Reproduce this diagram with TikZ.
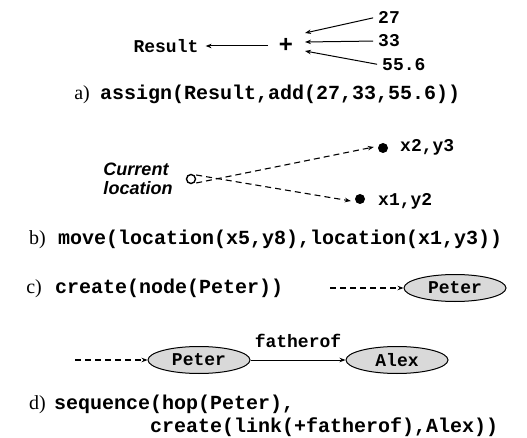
\documentclass[tikz,border=0pt]{standalone}
\usepackage{fontspec}
\setmainfont{Liberation Serif}
\setmonofont{Liberation Mono}
\newfontfamily\labelsans{Liberation Sans}
\usetikzlibrary{shapes.geometric,arrows.meta}

\tikzset{
  lbl/.style={font=\ttfamily\bfseries\fontsize{18}{20}\selectfont, inner sep=1pt},
  code/.style={font=\ttfamily\bfseries\fontsize{20}{24}\selectfont, inner sep=0pt, anchor=base west},
  tag/.style={font=\rmfamily\fontsize{20}{24}\selectfont, inner sep=0pt, anchor=base east},
  ent/.style={ellipse, draw, line width=1pt, fill=black!15, minimum width=102pt,
    minimum height=27pt, inner sep=0pt, font=\ttfamily\bfseries\fontsize{18}{20}\selectfont},
  tip/.style={-{Stealth[length=6pt,width=4.5pt]}},
  arr/.style={tip, line width=1pt},
  dasharr/.style={tip, line width=1.1pt, dash pattern=on 6pt off 4pt},
  dot/.style={circle, fill=black, minimum size=10pt, inner sep=0pt},
  hollow/.style={circle, draw, line width=1.4pt, minimum size=9pt, inner sep=0pt}
}

\begin{document}
\begin{tikzpicture}[x=1pt,y=-1pt]
\useasboundingbox (0,0) rectangle (527,438);

% a) assignment of a sum
\node[lbl] (res) at (166,46) {Result};
\node[font=\labelsans\bfseries\fontsize{24}{26}\selectfont, inner sep=0pt] (plus) at (286,45) {+};
\node[lbl,anchor=west] (n27) at (377,17) {27};
\node[lbl,anchor=west] (n33) at (377,41) {33};
\node[lbl,anchor=west] (n556) at (381,65) {55.6};
\coordinate (pa) at (305,33);
\coordinate (pb) at (305,42);
\coordinate (pc) at (305,51);
\coordinate (pr) at (268,46);
\draw[arr, shorten <=4pt] (n27.west) -- (pa);
\draw[arr, shorten <=4pt] (n33.west) -- (pb);
\draw[arr, shorten <=4pt] (n556.west) -- (pc);
\draw[arr] (pr) -- ([xshift=6pt]res.east);
\node[tag] (ta) at (90,100) {a)};
\node[code] (ca) at (100,100) {assign(Result,add(27,33,55.6))};

% b) moving between locations
\node[font=\labelsans\bfseries\itshape\fontsize{18}{19}\selectfont, align=left, inner sep=0pt]
  (cur) at (138,179) {Current\\location};
\node[hollow] (here) at (191,179) {};
\node[dot] (d23) at (383,148) {};
\node[dot] (d12) at (360,199) {};
\node[lbl,anchor=west] (l23) at (399,147) {x2,y3};
\node[lbl,anchor=west] (l12) at (377,201) {x1,y2};
\draw[dasharr] ([yshift=-4pt]here.east) -- ([xshift=-4pt,yshift=1pt]d23.west);
\draw[dasharr] ([yshift=4pt]here.east) -- ([xshift=-4pt,yshift=-2pt]d12.west);
\node[tag] (tb) at (46,244) {b)};
\node[code] (cb) at (58,244) {move(location(x5,y8),location(x1,y3))};

% c) creating a node
\node[tag] (tc) at (42,293) {c)};
\node[code] (cc) at (55,293) {create(node(Peter))};
\node[ent] (peter1) at (455,288) {Peter};
\coordinate (sc) at (330,288);
\draw[dasharr] (sc) -- (peter1.west);

% d) hop, then create a linked node
\node[ent] (peter2) at (199,360) {Peter};
\node[ent] (alex) at (397,360) {Alex};
\coordinate (sd) at (75,360);
\draw[dasharr] (sd) -- (peter2.west);
\draw[arr] (peter2.east) -- node[lbl, above=11pt] (rel) {fatherof} (alex.west);
\node[tag] (td) at (46,409) {d)};
\node[code] (cd1) at (54,409) {sequence(hop(Peter),};
\node[code] (cd2) at (150,432) {create(link(+fatherof),Alex))};
\end{tikzpicture}
\end{document}
